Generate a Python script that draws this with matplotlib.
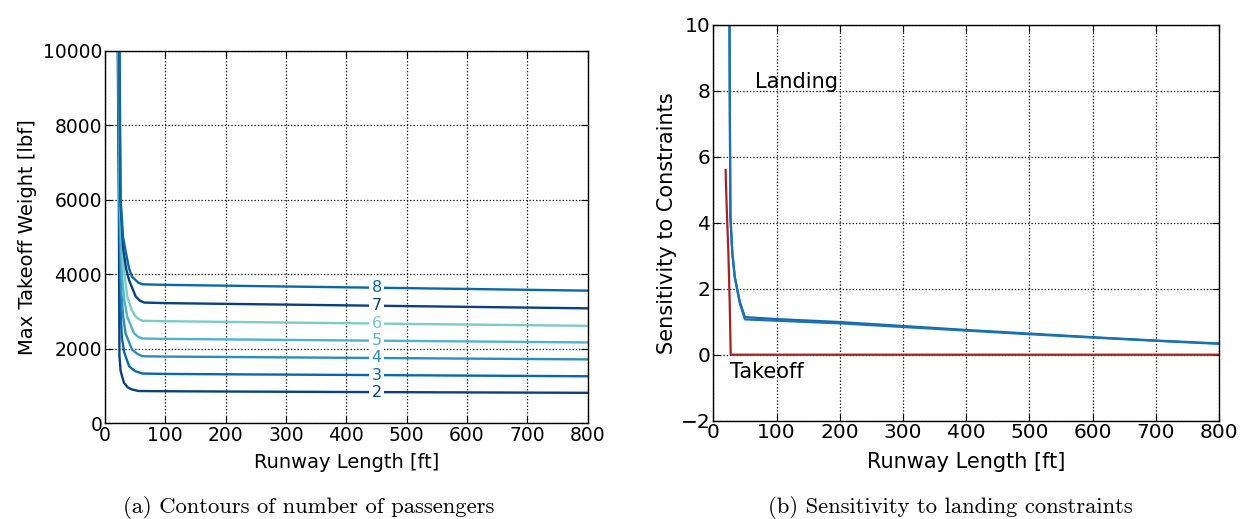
import numpy as np
import matplotlib.pyplot as plt

# (a) contours of number of passengers: runway length [ft] vs MTOW [lbf]
levels = [2, 3, 4, 5, 6, 7, 8]
contour_x = {
    2: [21, 23, 24, 26, 31.5, 38, 45, 56, 100, 200, 400, 600, 800],
    3: [21.5, 23.5, 26, 28, 32, 40, 50, 62, 100, 200, 400, 600, 800],
    4: [22, 24, 27, 30, 34, 45, 54, 62, 100, 200, 400, 600, 800],
    5: [22.5, 24.5, 28, 32, 37, 48, 55, 62, 100, 200, 400, 600, 800],
    6: [23, 25, 30, 37, 44, 51, 57, 62, 100, 200, 400, 600, 800],
    7: [23.5, 25.5, 30, 35, 40, 51, 58, 65, 100, 200, 400, 600, 800],
    8: [24, 26, 30, 34, 40, 45, 55, 62, 100, 200, 400, 600, 800],
}
contour_w = {
    2: [10500, 6000, 1800, 1400, 1085, 960, 907, 866, 860, 853, 840, 829, 818],
    3: [10500, 6000, 3000, 2300, 1900, 1530, 1400, 1335, 1325, 1315, 1298, 1280, 1262],
    4: [10500, 6000, 3500, 2900, 2420, 1973, 1860, 1800, 1790, 1780, 1758, 1736, 1715],
    5: [10500, 6000, 4000, 3300, 2860, 2420, 2320, 2275, 2265, 2252, 2224, 2197, 2170],
    6: [10500, 6000, 4300, 3400, 3050, 2860, 2790, 2750, 2740, 2722, 2686, 2650, 2615],
    7: [10500, 6000, 4700, 4150, 3840, 3400, 3290, 3240, 3225, 3205, 3165, 3125, 3085],
    8: [10500, 6000, 5000, 4640, 4150, 3930, 3780, 3730, 3715, 3693, 3649, 3605, 3560],
}
level_colors = ["#084081", "#0868ac", "#2b8cbe", "#4eb3d3", "#7bccc4"]

# (b) sensitivities
land_x = [25.5, 26, 27, 30, 34, 42, 50, 100, 200, 300, 400, 500, 600, 700, 800]
land1 = [10.5, 8.0, 4.2, 3.1, 2.36, 1.6, 1.14, 1.08, 0.99, 0.87, 0.75, 0.64, 0.53, 0.43, 0.34]
land2 = [10.5, 8.0, 4.2, 3.1, 2.33, 1.55, 1.07, 1.03, 0.95, 0.84, 0.73, 0.62, 0.52, 0.42, 0.33]
take_x = [19.5, 19.8, 21.5, 23.7, 26, 27.5, 100, 400, 800]
take_y = [5.6, 5.3, 4.3, 3.17, 1.5, 0.0, 0.0, 0.0, 0.0]

LABEL_X = 450


def style_axes(ax, fs):
    ax.grid(True, color="k", linestyle=":", linewidth=0.9)
    ax.tick_params(direction="in", top=True, right=True, length=5,
                   width=0.8, labelsize=fs, pad=2)
    for s in ax.spines.values():
        s.set_linewidth(1.0)


def main():
    fig = plt.figure(figsize=(12.51, 5.19), dpi=100)

    ax1 = fig.add_axes([0.0839, 0.1844, 0.3859, 0.718])
    for i, n in enumerate(levels):
        c = level_colors[i % len(level_colors)]
        x, w = contour_x[n], contour_w[n]
        ax1.plot(x, w, color=c, lw=1.7)
        ax1.text(LABEL_X, np.interp(LABEL_X, x, w), str(n), color=c,
                 fontsize=11.5, ha="center", va="center",
                 bbox=dict(facecolor="white", edgecolor="none", pad=1.5))
    ax1.set_xlim(0, 800)
    ax1.set_ylim(0, 10000)
    ax1.set_xlabel("Runway Length [ft]", fontsize=14, labelpad=6)
    ax1.set_ylabel("Max Takeoff Weight [lbf]", fontsize=14, labelpad=4)
    style_axes(ax1, 13.5)

    ax2 = fig.add_axes([0.5702, 0.1894, 0.4042, 0.763])
    ax2.plot(land_x, land1, color="#1668a8", lw=1.6)
    ax2.plot(land_x, land2, color="#1a72b4", lw=1.6)
    ax2.plot(take_x, take_y, color="#a82222", lw=1.6)
    ax2.text(66, 8.25, "Landing", fontsize=15, va="center")
    ax2.text(26, -0.52, "Takeoff", fontsize=15, va="center")
    ax2.set_xlim(0, 800)
    ax2.set_ylim(-2, 10)
    ax2.set_xlabel("Runway Length [ft]", fontsize=15, labelpad=7)
    ax2.set_ylabel("Sensitivity to Constraints", fontsize=15, labelpad=3)
    style_axes(ax2, 14.5)

    fig.text(309 / 1251, 0.023, "(a) Contours of number of passengers",
             family="cmr10", fontsize=16.3, ha="center", va="center")
    fig.text(950 / 1251, 0.023, "(b) Sensitivity to landing constraints",
             family="cmr10", fontsize=16.3, ha="center", va="center")

    fig.savefig("out.png", dpi=100, facecolor="white")


if __name__ == "__main__":
    main()
